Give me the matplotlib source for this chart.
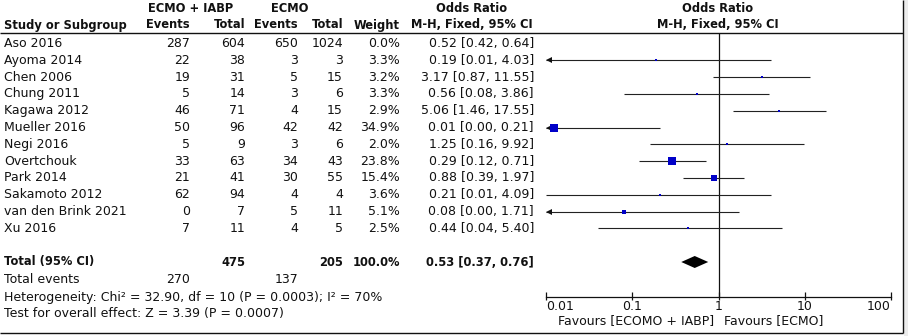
import matplotlib
matplotlib.use('Agg')
import matplotlib.pyplot as plt
import numpy as np
from matplotlib.patches import Polygon, Rectangle

# ---------------- data ----------------
studies = ["Aso 2016", "Ayoma 2014", "Chen 2006", "Chung 2011", "Kagawa 2012",
           "Mueller 2016", "Negi 2016", "Overtchouk", "Park 2014",
           "Sakamoto 2012", "van den Brink 2021", "Xu 2016"]
ev_combo = [287, 22, 19, 5, 46, 50, 5, 33, 21, 62, 0, 7]
tot_combo = [604, 38, 31, 14, 71, 96, 9, 63, 41, 94, 7, 11]
ev_ecmo = [650, 3, 5, 3, 4, 42, 3, 34, 30, 4, 5, 4]
tot_ecmo = [1024, 3, 15, 6, 15, 42, 6, 43, 55, 4, 11, 5]
weights = [0.0, 3.3, 3.2, 3.3, 2.9, 34.9, 2.0, 23.8, 15.4, 3.6, 5.1, 2.5]
or_est = [0.52, 0.19, 3.17, 0.56, 5.06, 0.01, 1.25, 0.29, 0.88, 0.21, 0.08, 0.44]
ci_low = [0.42, 0.01, 0.87, 0.08, 1.46, 0.00, 0.16, 0.12, 0.39, 0.01, 0.00, 0.04]
ci_high = [0.64, 4.03, 11.55, 3.86, 17.55, 0.21, 9.92, 0.71, 1.97, 4.09, 1.71, 5.40]
left_arrow = [False, True, False, False, False, True, False, False, False, False, True, False]

total_combo = 475
total_ecmo = 205
total_weight = 100.0
events_combo = 270
events_ecmo = 137
pooled = (0.53, 0.37, 0.76)
heterogeneity = "Heterogeneity: Chi² = 32.90, df = 10 (P = 0.0003); I² = 70%"
overall = "Test for overall effect: Z = 3.39 (P = 0.0007)"
xticks = [0.01, 0.1, 1, 10, 100]
xticklabels = ["0.01", "0.1", "1", "10", "100"]
fav_left = "Favours [ECOMO + IABP]"
fav_right = "Favours [ECMO]"

# ---------------- layout ----------------
W, H = 908, 336
DPI = 100
FS = 9.0
FSB = 8.3
fig = plt.figure(figsize=(W / DPI, H / DPI), dpi=DPI)
fig.patch.set_facecolor('white')
ax = fig.add_axes([0, 0, 1, 1])
ax.set_xlim(0, W)
ax.set_ylim(H, 0)
ax.axis('off')

font = dict(family='DejaVu Sans', fontsize=FS, color='#111111')
bold = dict(family='DejaVu Sans', fontsize=FSB, color='#111111', fontweight='bold')

x_name = 4
x_ev1, x_tot1, x_ev2, x_tot2, x_w, x_or = 190, 245, 298, 343, 400, 534
y0, dy = 43.5, 16.8
y_h1, y_h2, y_line = 8, 25, 32.5
y_total, y_tev, y_het, y_test = 262, 279.5, 297, 314
ax_left, ax_right, ax_bottom = 546, 891, 297

# headers
ax.text(191, y_h1, "ECMO + IABP", ha='center', va='center', **bold)
ax.text(290, y_h1, "ECMO", ha='center', va='center', **bold)
ax.text(472, y_h1, "Odds Ratio", ha='center', va='center', **bold)
ax.text(718, y_h1, "Odds Ratio", ha='center', va='center', **bold)
ax.text(x_name, y_h2, "Study or Subgroup", ha='left', va='center', **bold)
for xx, t in [(x_ev1, "Events"), (x_tot1, "Total"), (x_ev2, "Events"),
              (x_tot2, "Total"), (x_w, "Weight")]:
    ax.text(xx, y_h2, t, ha='right', va='center', **bold)
ax.text(472, y_h2, "M-H, Fixed, 95% CI", ha='center', va='center', **bold)
ax.text(718, y_h2, "M-H, Fixed, 95% CI", ha='center', va='center', **bold)

# frame lines
ax.plot([0, 903], [y_line, y_line], color='#111111', lw=1.0, solid_capstyle='butt')
ax.plot([0, 903], [333, 333], color='#111111', lw=1.0, solid_capstyle='butt')
ax.plot([903, 903], [0, 333], color='#111111', lw=1.0, solid_capstyle='butt')
ax.add_patch(Rectangle((904, 0), 4, H, color='#ececec', lw=0))

# study rows
for i, s in enumerate(studies):
    y = y0 + i * dy
    ax.text(x_name, y, s, ha='left', va='center', **font)
    ax.text(x_ev1, y, str(ev_combo[i]), ha='right', va='center', **font)
    ax.text(x_tot1, y, str(tot_combo[i]), ha='right', va='center', **font)
    ax.text(x_ev2, y, str(ev_ecmo[i]), ha='right', va='center', **font)
    ax.text(x_tot2, y, str(tot_ecmo[i]), ha='right', va='center', **font)
    ax.text(x_w, y, f"{weights[i]:.1f}%", ha='right', va='center', **font)
    ax.text(x_or, y, f"{or_est[i]:.2f} [{ci_low[i]:.2f}, {ci_high[i]:.2f}]",
            ha='right', va='center', **font)

# total rows
ax.text(x_name, y_total, "Total (95% CI)", ha='left', va='center', **bold)
ax.text(x_tot1, y_total, str(total_combo), ha='right', va='center', **bold)
ax.text(x_tot2, y_total, str(total_ecmo), ha='right', va='center', **bold)
ax.text(x_w, y_total, f"{total_weight:.1f}%", ha='right', va='center', **bold)
ax.text(x_or, y_total, f"{pooled[0]:.2f} [{pooled[1]:.2f}, {pooled[2]:.2f}]",
        ha='right', va='center', **bold)
ax.text(x_name, y_tev, "Total events", ha='left', va='center', **font)
ax.text(x_ev1, y_tev, str(events_combo), ha='right', va='center', **font)
ax.text(x_ev2, y_tev, str(events_ecmo), ha='right', va='center', **font)
ax.text(x_name, y_het, heterogeneity, ha='left', va='center', **font)
ax.text(x_name, y_test, overall, ha='left', va='center', **font)

# ---------------- forest axes ----------------
fx = fig.add_axes([ax_left / W, (H - ax_bottom) / H,
                   (ax_right - ax_left) / W, (ax_bottom - y_line) / H])
fx.set_xscale('log')
fx.set_xlim(xticks[0], xticks[-1])
fx.set_ylim(ax_bottom, y_line)
fx.patch.set_alpha(0)
for sp in ['top', 'left', 'right']:
    fx.spines[sp].set_visible(False)
fx.spines['bottom'].set_linewidth(0.9)
fx.spines['bottom'].set_color('#111111')
fx.set_yticks([])
fx.set_xticks([])
fx.xaxis.set_minor_locator(matplotlib.ticker.NullLocator())

# ticks & labels drawn by hand (up 5 px, down 3 px)
n = len(xticks)
for k, (t, lab) in enumerate(zip(xticks, xticklabels)):
    fx.plot([t, t], [ax_bottom - 5, ax_bottom + 3], color='#111111', lw=0.9,
            clip_on=False, solid_capstyle='butt')
    ha = 'left' if k == 0 else ('right' if k == n - 1 else 'center')
    fx.text(t, ax_bottom + 10, lab, ha=ha, va='center', clip_on=False, **font)

fx.axvline(1, color='#111111', lw=0.9)

decades = np.log10(xticks[-1]) - np.log10(xticks[0])
px_per_dec = (ax_right - ax_left) / decades
for i in range(len(studies)):
    if weights[i] <= 0:
        continue
    y = y0 + i * dy
    lo = max(ci_low[i], xticks[0])
    fx.plot([lo, ci_high[i]], [y, y], color='#222222', lw=0.8, solid_capstyle='butt')
    if left_arrow[i]:
        fx.plot([xticks[0] * 10 ** (3 / px_per_dec)], [y], marker='<', ms=4.5,
                color='#111111', mew=0, clip_on=False)
    side = 1.5 * np.sqrt(weights[i])
    half_dec = (side / 2 + 4) / px_per_dec
    xc = max(or_est[i], xticks[0] * 10 ** half_dec)
    fx.plot([xc], [y], marker='s', ms=side * 72 / DPI, mew=0, color='#0000c8',
            clip_on=False)

hd = 6
diamond = Polygon([(pooled[1], y_total), (pooled[0], y_total - hd),
                   (pooled[2], y_total), (pooled[0], y_total + hd)],
                  closed=True, color='black', lw=0)
fx.add_patch(diamond)

ax.text(714, 321, fav_left, ha='right', va='center', **font)
ax.text(724, 321, fav_right, ha='left', va='center', **font)

fig.savefig('out.png', dpi=DPI)
